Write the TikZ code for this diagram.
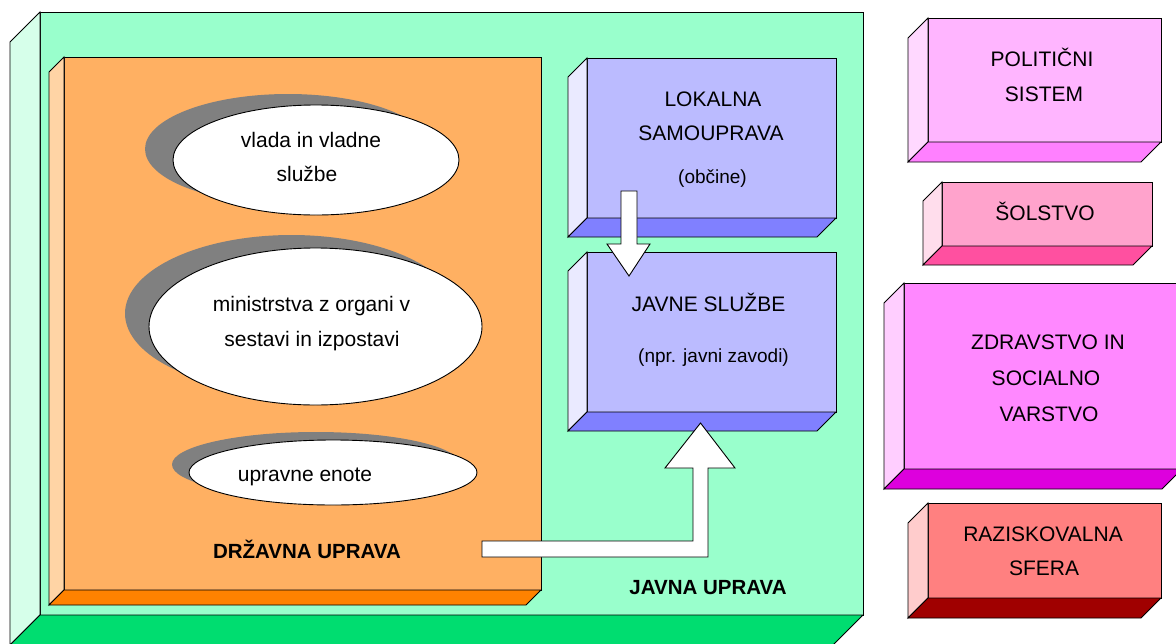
\documentclass[tikz,border=0pt]{standalone}
\usepackage{fontspec}
\setmainfont{Liberation Sans}
\usetikzlibrary{calc,shapes.geometric}

% face colours: front / side / bottom
\definecolor{grnF}{RGB}{153,255,204}
\definecolor{grnS}{RGB}{214,255,234}
\definecolor{grnB}{RGB}{0,221,112}
\definecolor{orgF}{RGB}{255,176,98}
\definecolor{orgS}{RGB}{255,212,165}
\definecolor{orgB}{RGB}{255,130,0}
\definecolor{lavF}{RGB}{187,187,255}
\definecolor{lavS}{RGB}{234,234,255}
\definecolor{lavB}{RGB}{128,128,255}
\definecolor{polF}{RGB}{255,181,255}
\definecolor{polS}{RGB}{255,216,255}
\definecolor{polB}{RGB}{255,128,255}
\definecolor{solF}{RGB}{255,163,204}
\definecolor{solS}{RGB}{255,221,236}
\definecolor{solB}{RGB}{255,80,160}
\definecolor{zdrF}{RGB}{255,136,255}
\definecolor{zdrS}{RGB}{255,206,255}
\definecolor{zdrB}{RGB}{221,0,221}
\definecolor{razF}{RGB}{255,128,128}
\definecolor{razS}{RGB}{255,204,204}
\definecolor{razB}{RGB}{160,0,0}
\definecolor{ovalshade}{RGB}{128,128,128}

\tikzset{
  face/.style={draw=black, line width=0.9pt, line join=miter},
  front/.style={face, rectangle, inner sep=0pt, outer sep=0pt, anchor=north west},
  lbl/.style={anchor=base, inner sep=0pt, font=\fontsize{21}{25}\selectfont},
  sublbl/.style={anchor=base, inner sep=0pt, font=\fontsize{19}{23}\selectfont},
  boldlbl/.style={anchor=base, inner sep=0pt, font=\fontsize{20.5}{25}\selectfont\bfseries},
  oval/.style={ellipse, draw=black, fill=white, line width=0.9pt, inner sep=0pt, outer sep=0pt},
  blockarrow/.style={draw=black, fill=white, line width=0.9pt, line join=miter},
}

% side and bottom faces of a slab whose front face is node #1, depth #2
\newcommand{\slabfaces}[4]{%
  \path[face, fill=#3] (#1.north west) -- ++(-#2,#2) -- ($(#1.south west)+(-#2,#2)$) -- (#1.south west) -- cycle;
  \path[face, fill=#4] (#1.south west) -- ($(#1.south west)+(-#2,#2)$) -- ($(#1.south east)+(-#2,#2)$) -- (#1.south east) -- cycle;}

\begin{document}
\begin{tikzpicture}[x=1pt, y=-1pt]
\clip (0,0) rectangle (1176,643);
\fill[white] (0,0) rectangle (1176,643);

% public administration (outer slab)
\node[front, fill=grnF, minimum width=823pt, minimum height=603pt] (javna) at (40,12) {};
\slabfaces{javna}{30}{grnS}{grnB}

% state administration
\node[front, fill=orgF, minimum width=477pt, minimum height=533pt] (drzavna) at (64,57) {};
\slabfaces{drzavna}{15}{orgS}{orgB}

% ovals with shadows
\coordinate (vlada-c) at (316,160);
\fill[ovalshade] ($(vlada-c)+(-28,-11)$) ellipse [x radius=143pt, y radius=55pt];
\node[oval, minimum width=286pt, minimum height=110pt] (vlada) at (vlada-c) {};
\node[lbl] (vlada-1) at (311,147.5) {vlada in vladne};
\node[lbl] (vlada-2) at (307,181.5) {službe};

\coordinate (min-c) at (315.5,326.5);
\fill[ovalshade] ($(min-c)+(-24,-13)$) ellipse [x radius=166.5pt, y radius=78.5pt];
\node[oval, minimum width=333pt, minimum height=157pt] (min) at (min-c) {};
\node[lbl] (min-1) at (311.5,311) {ministrstva z organi v};
\node[lbl] (min-2) at (312,346.5) {sestavi in izpostavi};

\coordinate (ue-c) at (333,472.5);
\fill[ovalshade] ($(ue-c)+(-17,-8)$) ellipse [x radius=144pt, y radius=32.5pt];
\node[oval, minimum width=288pt, minimum height=65pt] (ue) at (ue-c) {};
\node[lbl] (ue-1) at (305,481) {upravne enote};

\node[boldlbl] (drzavna-t) at (307,558) {DRŽAVNA UPRAVA};
\node[boldlbl] (javna-t) at (708,594) {JAVNA UPRAVA};

% local self-government and public services
\node[front, fill=lavF, minimum width=249pt, minimum height=160pt] (lok) at (587,58) {};
\slabfaces{lok}{19}{lavS}{lavB}
\node[lbl] (lok-1) at (713,106.5) {LOKALNA};
\node[lbl] (lok-2) at (711,140) {SAMOUPRAVA};
\node[sublbl] (lok-3) at (712.5,183.3) {(občine)};

\node[front, fill=lavF, minimum width=249pt, minimum height=160pt] (sluzbe) at (587,252) {};
\slabfaces{sluzbe}{19}{lavS}{lavB}
\node[lbl] (sluzbe-1) at (708.5,311.5) {JAVNE SLUŽBE};
\node[sublbl] (sluzbe-2) at (713.5,362) {(npr. javni zavodi)};

% other systems
\node[front, fill=polF, minimum width=233pt, minimum height=124pt] (pol) at (928,18) {};
\slabfaces{pol}{20}{polS}{polB}
\node[lbl] (pol-1) at (1042,66) {POLITIČNI};
\node[lbl] (pol-2) at (1044,101.7) {SISTEM};

\node[front, fill=solF, minimum width=210pt, minimum height=64pt] (sol) at (942,182) {};
\slabfaces{sol}{19}{solS}{solB}
\node[lbl] (sol-1) at (1045,220.5) {ŠOLSTVO};

\node[front, fill=zdrF, minimum width=278pt, minimum height=186pt] (zdr) at (904,283) {};
\slabfaces{zdr}{20}{zdrS}{zdrB}
\node[lbl] (zdr-1) at (1048,349) {ZDRAVSTVO IN};
\node[lbl] (zdr-2) at (1046,385) {SOCIALNO};
\node[lbl] (zdr-3) at (1049,421.5) {VARSTVO};

\node[front, fill=razF, minimum width=233pt, minimum height=95pt] (raz) at (928,503) {};
\slabfaces{raz}{20}{razS}{razB}
\node[lbl] (raz-1) at (1043,541.5) {RAZISKOVALNA};
\node[lbl] (raz-2) at (1044,575) {SFERA};

% block arrow: local self-government -> public services
\coordinate (dn-start) at (629,191);
\coordinate (dn-tip) at (629,276);
\draw[blockarrow] ($(dn-start)+(-8,0)$) -- ($(dn-start)+(8,0)$)
  -- ($(dn-tip)+(8,-32)$) -- ($(dn-tip)+(21,-32)$) -- (dn-tip)
  -- ($(dn-tip)+(-22,-32)$) -- ($(dn-tip)+(-8,-32)$) -- cycle;

% bent block arrow: state administration -> public services
\coordinate (up-start) at (482,549);
\coordinate (up-tip) at (700.5,423);
\draw[blockarrow] ($(up-start)+(0,-8)$) -- ($(up-tip |- up-start)+(-7.5,-8)$)
  -- ($(up-tip)+(-7.5,45)$) -- ($(up-tip)+(-35.5,45)$) -- (up-tip)
  -- ($(up-tip)+(34.5,45)$) -- ($(up-tip)+(7.5,45)$)
  -- ($(up-tip |- up-start)+(7.5,8)$) -- ($(up-start)+(0,8)$) -- cycle;
\end{tikzpicture}
\end{document}
